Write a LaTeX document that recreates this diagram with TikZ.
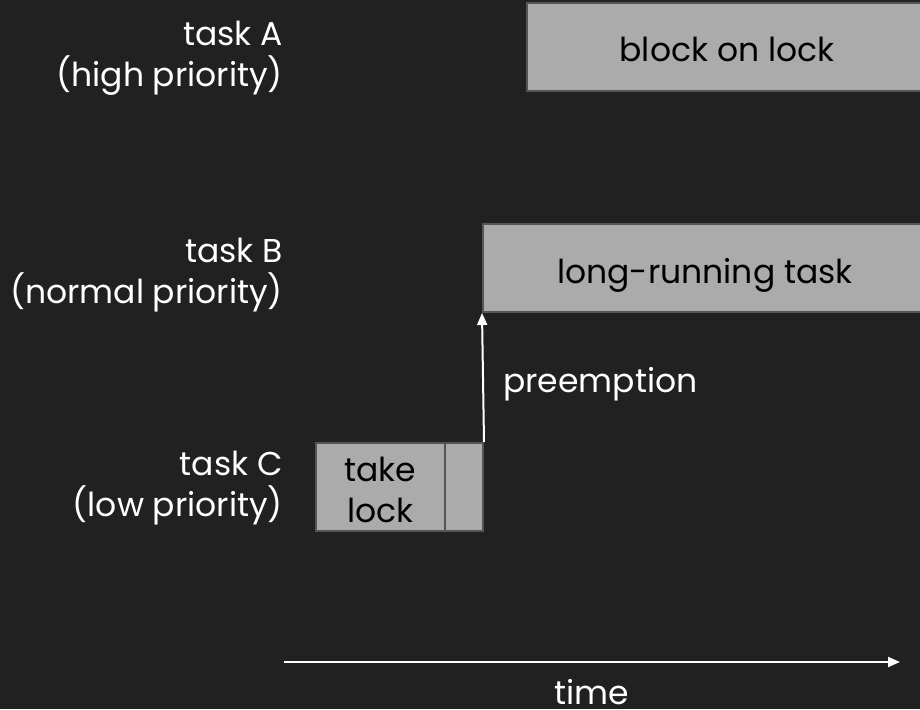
\documentclass[tikz,border=0pt]{standalone}
\usepackage{fontspec}
\setmainfont{Poppins}
\usetikzlibrary{arrows.meta}
\definecolor{bgdark}{HTML}{212121}
\definecolor{boxfill}{HTML}{ABABAB}
\definecolor{boxedge}{HTML}{555555}
\begin{document}
\begin{tikzpicture}[x=1pt,y=-1pt,
  txt/.style={font=\fontsize{33}{41}\selectfont, inner sep=0pt},
  tasklabel/.style={txt, text=white, align=right, anchor=base east},
  taskbox/.style={txt, draw=boxedge, line width=2pt, fill=boxfill, text=black,
    minimum height=88pt, text height=30pt, text depth=0pt},
  flow/.style={white, line width=2pt, -{Triangle[length=12pt,width=10pt]}}
]
\fill[bgdark] (0,0) rectangle (920,709);
\useasboundingbox (0,0) rectangle (920,709);
\clip (0,0) rectangle (920,709);

% row labels (anchored at the baseline of the second line)
\node[tasklabel] (la) at (283,86) {task A\\(high priority)};
\node[tasklabel] (lb) at (283,303) {task B\\(normal priority)};
\node[tasklabel] (lc) at (283,516) {task C\\(low priority)};

% task A: blocked on the lock
\node[taskbox, minimum width=400pt] (ba) at (727,47) {block on lock};
% task B: runs for a long time
\node[taskbox, minimum width=444pt] (bb) at (705,268) {long-running task};
% task C: takes the lock, then is preempted
\node[taskbox, minimum width=129pt, text height=, text depth=, align=center,
  font=\fontsize{33}{41}\selectfont] (bc1) at (380.5,487) {\rule{0pt}{31pt}take\\lock};
\node[taskbox, minimum width=38pt] (bc2) at (464,487) {};

% preemption
\draw[flow] (bc2.north east) -- (bb.south west);
\node[txt, text=white, anchor=base west] (pre) at (503,392) {preemption};

% time axis
\coordinate (t0) at (284,662);
\coordinate (t1) at (900,662);
\draw[flow] (t0) -- (t1);
\node[txt, text=white, anchor=base] (time) at (592,704) {time};
\end{tikzpicture}
\end{document}
